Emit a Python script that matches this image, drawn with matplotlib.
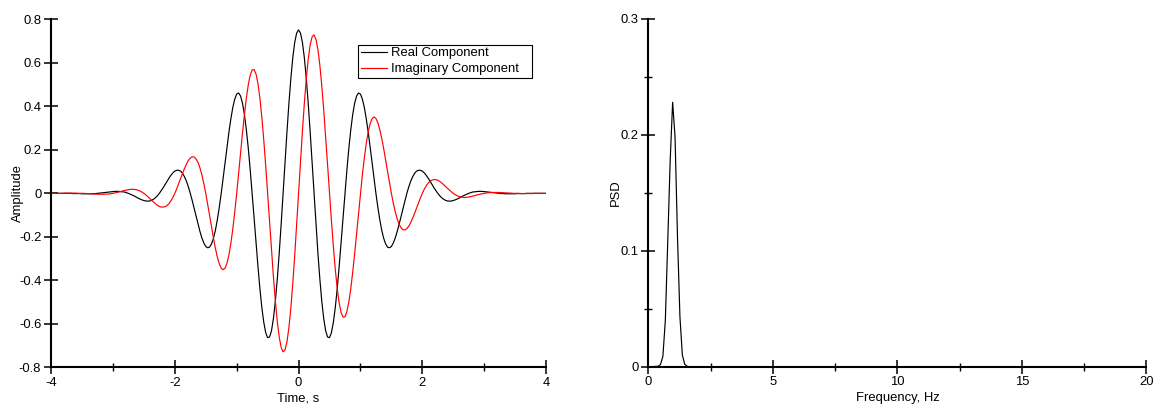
import matplotlib
matplotlib.use("Agg")
import matplotlib.pyplot as plt
import numpy as np
from matplotlib.ticker import MultipleLocator, FormatStrFormatter

plt.rcParams['font.family'] = ['Liberation Sans', 'DejaVu Sans']
plt.rcParams['axes.unicode_minus'] = False

# time axis, -4..4 s in 1/32 s steps
time_s = np.linspace(-4, 4, 257)

real_part = [
    0, 0, 0, 0, 0, 0, 0, 0, 0, 0, 0, -0.001, -0.001, -0.001, -0.001, -0.001,
    -0.002, -0.002, -0.002, -0.002, -0.002, -0.002, -0.001, -0.001, 0, 0.001, 0.002, 0.003, 0.004, 0.005, 0.006, 0.007,
    0.008, 0.009, 0.009, 0.009, 0.008, 0.007, 0.006, 0.003, 0, -0.004, -0.008, -0.012, -0.017, -0.022, -0.026, -0.030,
    -0.033, -0.035, -0.036, -0.035, -0.032, -0.027, -0.020, -0.011, 0, 0.013, 0.026, 0.041, 0.056, 0.070, 0.083, 0.094,
    0.102, 0.106, 0.106, 0.102, 0.092, 0.076, 0.056, 0.030, 0, -0.033, -0.069, -0.106, -0.142, -0.175, -0.205, -0.228,
    -0.244, -0.250, -0.247, -0.232, -0.206, -0.169, -0.121, -0.064, 0, 0.070, 0.142, 0.214, 0.282, 0.343, 0.395, 0.433,
    0.456, 0.461, 0.447, 0.414, 0.362, 0.292, 0.207, 0.108, 0, -0.113, -0.227, -0.336, -0.437, -0.524, -0.592, -0.640,
    -0.663, -0.660, -0.631, -0.575, -0.495, -0.393, -0.274, -0.141, 0, 0.143, 0.282, 0.412, 0.527, 0.622, 0.693, 0.736,
    0.751,
    0.736, 0.693, 0.622, 0.527, 0.412, 0.282, 0.143, 0, -0.141, -0.274, -0.393, -0.495, -0.575, -0.631, -0.660, -0.663,
    -0.640, -0.592, -0.524, -0.437, -0.336, -0.227, -0.113, 0, 0.108, 0.207, 0.292, 0.362, 0.414, 0.447, 0.461, 0.456,
    0.433, 0.395, 0.343, 0.282, 0.214, 0.142, 0.070, 0, -0.064, -0.121, -0.169, -0.206, -0.232, -0.247, -0.250, -0.244,
    -0.228, -0.205, -0.175, -0.142, -0.106, -0.069, -0.033, 0, 0.030, 0.056, 0.076, 0.092, 0.102, 0.106, 0.106, 0.102,
    0.094, 0.083, 0.070, 0.056, 0.041, 0.026, 0.013, 0, -0.011, -0.020, -0.027, -0.032, -0.035, -0.036, -0.035, -0.033,
    -0.030, -0.026, -0.022, -0.017, -0.012, -0.008, -0.004, 0, 0.003, 0.006, 0.007, 0.008, 0.009, 0.009, 0.009, 0.008,
    0.007, 0.006, 0.005, 0.004, 0.003, 0.002, 0.001, 0, -0.001, -0.001, -0.002, -0.002, -0.002, -0.002, -0.002, -0.002,
    -0.001, -0.001, -0.001, -0.001, -0.001, 0, 0, 0, 0, 0, 0, 0, 0, 0, 0, 0]

imag_part = [
    0, 0, 0, 0, 0, 0, 0, 0.001, 0.001, 0.001, 0.001, 0.001, 0.001, 0.001, 0, 0,
    0, 0, -0.001, -0.001, -0.002, -0.002, -0.003, -0.003, -0.004, -0.004, -0.004, -0.004, -0.004, -0.003, -0.003, -0.001,
    0, 0.002, 0.004, 0.006, 0.008, 0.011, 0.013, 0.015, 0.017, 0.018, 0.019, 0.018, 0.017, 0.014, 0.011, 0.006,
    0, -0.007, -0.015, -0.023, -0.032, -0.040, -0.048, -0.055, -0.060, -0.063, -0.063, -0.061, -0.056, -0.047, -0.034, -0.019,
    0, 0.021, 0.044, 0.068, 0.092, 0.114, 0.134, 0.151, 0.162, 0.168, 0.167, 0.158, 0.142, 0.117, 0.085, 0.045,
    0, -0.050, -0.102, -0.155, -0.206, -0.253, -0.293, -0.324, -0.344, -0.351, -0.343, -0.320, -0.282, -0.229, -0.163, -0.086,
    0, 0.092, 0.185, 0.277, 0.362, 0.438, 0.499, 0.543, 0.567, 0.569, 0.548, 0.504, 0.437, 0.350, 0.245, 0.127,
    0, -0.131, -0.261, -0.384, -0.495, -0.589, -0.661, -0.708, -0.728, -0.719, -0.682, -0.617, -0.527, -0.415, -0.287, -0.146,
    0,
    0.146, 0.287, 0.415, 0.527, 0.617, 0.682, 0.719, 0.728, 0.708, 0.661, 0.589, 0.495, 0.384, 0.261, 0.131, 0,
    -0.127, -0.245, -0.350, -0.437, -0.504, -0.548, -0.569, -0.567, -0.543, -0.499, -0.438, -0.362, -0.277, -0.185, -0.092, 0,
    0.086, 0.163, 0.229, 0.282, 0.320, 0.343, 0.351, 0.344, 0.324, 0.293, 0.253, 0.206, 0.155, 0.102, 0.050, 0,
    -0.045, -0.085, -0.117, -0.142, -0.158, -0.167, -0.168, -0.162, -0.151, -0.134, -0.114, -0.092, -0.068, -0.044, -0.021, 0,
    0.019, 0.034, 0.047, 0.056, 0.061, 0.063, 0.063, 0.060, 0.055, 0.048, 0.040, 0.032, 0.023, 0.015, 0.007, 0,
    -0.006, -0.011, -0.014, -0.017, -0.018, -0.019, -0.018, -0.017, -0.015, -0.013, -0.011, -0.008, -0.006, -0.004, -0.002, 0,
    0.001, 0.003, 0.003, 0.004, 0.004, 0.004, 0.004, 0.004, 0.003, 0.003, 0.002, 0.002, 0.001, 0.001, 0, 0,
    0, 0, -0.001, -0.001, -0.001, -0.001, -0.001, -0.001, -0.001, 0, 0, 0, 0, 0, 0, 0]

freq_hz = [0, 0.391, 0.488, 0.586, 0.684, 0.781, 0.879, 0.977, 1.074,
           1.172, 1.270, 1.367, 1.465, 1.563, 1.660, 20]
psd = [0, 0.0003, 0.0018, 0.009, 0.040, 0.108, 0.178, 0.228, 0.198,
       0.112, 0.043, 0.010, 0.002, 0.0003, 0, 0]

fs = 9.4

def style_axes(ax):
    for side in ['top', 'right']:
        ax.spines[side].set_visible(False)
    for side in ['left', 'bottom']:
        ax.spines[side].set_linewidth(1.5)
    ax.tick_params(which='major', direction='inout', length=10, width=1.1,
                   labelsize=fs, pad=2)
    ax.tick_params(which='minor', direction='inout', length=6, width=1.0)


fig = plt.figure(figsize=(11.55, 4.05), dpi=100)

# left: wavelet in time
ax1 = fig.add_axes([0.0442, 0.0926, 0.4286, 0.860])
ax1.plot(time_s, real_part, color='black', lw=0.85, label='Real Component')
ax1.plot(time_s, imag_part, color='red', lw=0.85, label='Imaginary Component')
ax1.set_xlim(-4, 4)
ax1.set_ylim(-0.8, 0.8)
ax1.xaxis.set_major_locator(MultipleLocator(2))
ax1.xaxis.set_minor_locator(MultipleLocator(1))
ax1.yaxis.set_major_locator(MultipleLocator(0.2))
ax1.yaxis.set_major_formatter(FormatStrFormatter('%g'))
style_axes(ax1)
ax1.set_xlabel('Time, s', fontsize=fs)
ax1.set_ylabel('Amplitude', fontsize=fs)
ax1.xaxis.set_label_coords(0.5, -0.072)
ax1.yaxis.set_label_coords(-0.054, 0.5)
leg = ax1.legend(loc='upper left', bbox_to_anchor=(0.620, 0.83, 0.351, 0.097),
                 mode='expand', borderaxespad=0, fancybox=False, framealpha=1,
                 edgecolor='black', fontsize=fs, handlelength=2.0,
                 handletextpad=0.3, borderpad=0.2, labelspacing=0.3)
leg.get_frame().set_linewidth(0.8)

# right: power spectral density
ax2 = fig.add_axes([0.5613, 0.0946, 0.4313, 0.859])
ax2.plot(freq_hz, psd, color='black', lw=0.85)
ax2.set_xlim(0, 20)
ax2.set_ylim(0, 0.3)
ax2.xaxis.set_major_locator(MultipleLocator(5))
ax2.xaxis.set_minor_locator(MultipleLocator(2.5))
ax2.yaxis.set_major_locator(MultipleLocator(0.1))
ax2.yaxis.set_minor_locator(MultipleLocator(0.05))
ax2.yaxis.set_major_formatter(FormatStrFormatter('%g'))
style_axes(ax2)
ax2.set_xlabel('Frequency, Hz', fontsize=fs)
ax2.set_ylabel('PSD', fontsize=fs)
ax2.xaxis.set_label_coords(0.5, -0.072)
ax2.yaxis.set_label_coords(-0.053, 0.5)

fig.savefig('out.png', dpi=100)
